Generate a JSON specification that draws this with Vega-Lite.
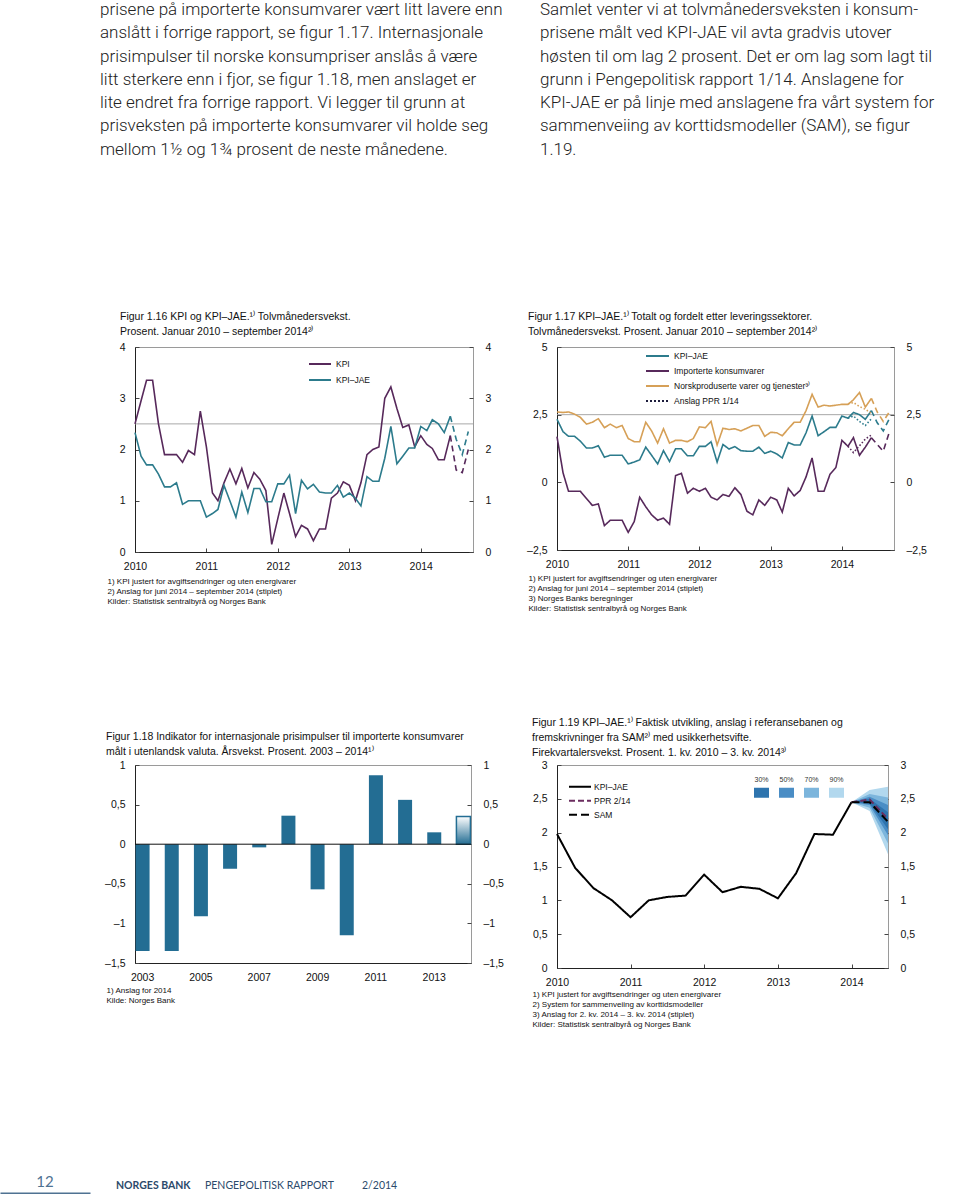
{
"$schema": "https://vega.github.io/schema/vega-lite/v6.json",
"background": "white",
"padding": 0,
"autosize": {"type": "pad"},
"config": {
  "font": "Liberation Sans",
  "view": {"stroke": "#9a9a9a", "strokeWidth": 1},
  "axis": {"labelFont": "Liberation Sans", "labelFontSize": 10.5, "labelColor": "#111111", "grid": false, "domainColor": "#222222", "tickColor": "#444444", "tickSize": -4},
  "axisLeft": {"labelPadding": 14},
  "axisRight": {"labelPadding": 16, "domain": false},
  "axisX": {"labelPadding": 13, "labelFlush": false, "labelOverlap": false, "titleFont": "Liberation Sans", "titleFontSize": 8, "titleFontWeight": "normal", "titleColor": "#111111", "titleAnchor": "start", "titleAlign": "left", "titleBaseline": "top", "titleLineHeight": 10},
  "title": {"font": "Liberation Sans", "fontSize": 10.5, "fontWeight": "normal", "color": "#111111", "anchor": "start", "frame": "group", "lineHeight": 15, "baseline": "bottom"},
  "legend": {"labelFont": "Liberation Sans", "labelFontSize": 8.5, "labelColor": "#111111", "padding": 0, "symbolStrokeWidth": 2, "labelOffset": 4}
},
"datasets": {
  "mnd": [
    {"d":"2010-01-01","KPI":2.5,"JAE":2.33,"IMP":1.69,"NOR":2.6},
    {"d":"2010-02-01","KPI":2.95,"JAE":1.87,"IMP":0.35,"NOR":2.58},
    {"d":"2010-03-01","KPI":3.35,"JAE":1.7,"IMP":-0.33,"NOR":2.6},
    {"d":"2010-04-01","KPI":3.35,"JAE":1.7,"IMP":-0.33,"NOR":2.52},
    {"d":"2010-05-01","KPI":2.5,"JAE":1.52,"IMP":-0.33,"NOR":2.4},
    {"d":"2010-06-01","KPI":1.9,"JAE":1.27,"IMP":-0.6,"NOR":2.15},
    {"d":"2010-07-01","KPI":1.9,"JAE":1.27,"IMP":-0.85,"NOR":2.22},
    {"d":"2010-08-01","KPI":1.9,"JAE":1.35,"IMP":-0.8,"NOR":2.35},
    {"d":"2010-09-01","KPI":1.75,"JAE":0.93,"IMP":-1.6,"NOR":2.02},
    {"d":"2010-10-01","KPI":1.98,"JAE":1.0,"IMP":-1.4,"NOR":2.15},
    {"d":"2010-11-01","KPI":1.9,"JAE":1.0,"IMP":-1.4,"NOR":2.02},
    {"d":"2010-12-01","KPI":2.75,"JAE":1.0,"IMP":-1.4,"NOR":2.1},
    {"d":"2011-01-01","KPI":2.05,"JAE":0.68,"IMP":-1.85,"NOR":1.62},
    {"d":"2011-02-01","KPI":1.15,"JAE":0.75,"IMP":-1.45,"NOR":1.5},
    {"d":"2011-03-01","KPI":1.0,"JAE":0.83,"IMP":-0.55,"NOR":1.5},
    {"d":"2011-04-01","KPI":1.35,"JAE":1.3,"IMP":-0.9,"NOR":2.22},
    {"d":"2011-05-01","KPI":1.62,"JAE":1.0,"IMP":-1.2,"NOR":1.9},
    {"d":"2011-06-01","KPI":1.33,"JAE":0.68,"IMP":-1.4,"NOR":1.45},
    {"d":"2011-07-01","KPI":1.63,"JAE":1.17,"IMP":-1.32,"NOR":1.98},
    {"d":"2011-08-01","KPI":1.25,"JAE":0.77,"IMP":-1.55,"NOR":1.45},
    {"d":"2011-09-01","KPI":1.55,"JAE":1.24,"IMP":0.25,"NOR":1.55},
    {"d":"2011-10-01","KPI":1.42,"JAE":1.24,"IMP":0.33,"NOR":1.55},
    {"d":"2011-11-01","KPI":1.2,"JAE":0.98,"IMP":-0.4,"NOR":1.5},
    {"d":"2011-12-01","KPI":0.15,"JAE":0.98,"IMP":-0.22,"NOR":1.62},
    {"d":"2012-01-01","KPI":0.65,"JAE":1.33,"IMP":-0.33,"NOR":2.05},
    {"d":"2012-02-01","KPI":1.15,"JAE":1.33,"IMP":-0.22,"NOR":2.02},
    {"d":"2012-03-01","KPI":0.75,"JAE":1.5,"IMP":-0.55,"NOR":2.25},
    {"d":"2012-04-01","KPI":0.3,"JAE":0.75,"IMP":-0.65,"NOR":1.38},
    {"d":"2012-05-01","KPI":0.52,"JAE":1.4,"IMP":-0.45,"NOR":2.0},
    {"d":"2012-06-01","KPI":0.45,"JAE":1.23,"IMP":-0.52,"NOR":1.95},
    {"d":"2012-07-01","KPI":0.22,"JAE":1.32,"IMP":-0.2,"NOR":1.98},
    {"d":"2012-08-01","KPI":0.45,"JAE":1.17,"IMP":-0.45,"NOR":1.9},
    {"d":"2012-09-01","KPI":0.45,"JAE":1.15,"IMP":-1.07,"NOR":2.0},
    {"d":"2012-10-01","KPI":1.05,"JAE":1.15,"IMP":-1.2,"NOR":2.1},
    {"d":"2012-11-01","KPI":1.15,"JAE":1.3,"IMP":-0.65,"NOR":2.1},
    {"d":"2012-12-01","KPI":1.37,"JAE":1.07,"IMP":-0.85,"NOR":1.7},
    {"d":"2013-01-01","KPI":1.3,"JAE":1.15,"IMP":-0.55,"NOR":1.85},
    {"d":"2013-02-01","KPI":1.0,"JAE":1.05,"IMP":-0.65,"NOR":1.83},
    {"d":"2013-03-01","KPI":1.35,"JAE":0.9,"IMP":-1.1,"NOR":1.72},
    {"d":"2013-04-01","KPI":1.9,"JAE":1.47,"IMP":-0.22,"NOR":1.98},
    {"d":"2013-05-01","KPI":2.0,"JAE":1.38,"IMP":-0.5,"NOR":2.22},
    {"d":"2013-06-01","KPI":2.05,"JAE":1.38,"IMP":-0.3,"NOR":2.22},
    {"d":"2013-07-01","KPI":3.0,"JAE":1.83,"IMP":0.2,"NOR":2.65},
    {"d":"2013-08-01","KPI":3.22,"JAE":2.45,"IMP":0.9,"NOR":3.25},
    {"d":"2013-09-01","KPI":2.8,"JAE":1.72,"IMP":-0.33,"NOR":2.78},
    {"d":"2013-10-01","KPI":2.43,"JAE":1.87,"IMP":-0.33,"NOR":2.85},
    {"d":"2013-11-01","KPI":2.48,"JAE":2.03,"IMP":0.3,"NOR":2.82},
    {"d":"2013-12-01","KPI":2.05,"JAE":2.03,"IMP":0.55,"NOR":2.85},
    {"d":"2014-01-01","KPI":2.27,"JAE":2.45,"IMP":1.55,"NOR":2.88},
    {"d":"2014-02-01","KPI":2.1,"JAE":2.37,"IMP":1.33,"NOR":2.88},
    {"d":"2014-03-01","KPI":2.02,"JAE":2.58,"IMP":1.65,"NOR":3.05},
    {"d":"2014-04-01","KPI":1.8,"JAE":2.5,"IMP":1.0,"NOR":3.32},
    {"d":"2014-05-01","KPI":1.8,"JAE":2.33,"IMP":1.3,"NOR":2.78},
    {"d":"2014-06-01","KPI":2.27,"JAE":2.65,"IMP":1.65,"NOR":3.1}
  ],
  "mnd_p": [
    {"d":"2014-06-01","KPI":2.27,"JAE":2.65,"IMP":1.65,"NOR":3.1},
    {"d":"2014-07-01","KPI":1.6,"JAE":2.2,"IMP":1.4,"NOR":2.6},
    {"d":"2014-08-01","KPI":1.55,"JAE":1.9,"IMP":1.15,"NOR":2.25},
    {"d":"2014-09-01","KPI":2.0,"JAE":2.35,"IMP":1.85,"NOR":2.6}
  ],
  "ppr": [
    {"d":"2014-02-01","JAE":2.37,"IMP":1.33,"NOR":2.9},
    {"d":"2014-03-01","JAE":2.45,"IMP":1.1,"NOR":2.95},
    {"d":"2014-04-01","JAE":2.25,"IMP":1.35,"NOR":2.8},
    {"d":"2014-05-01","JAE":2.1,"IMP":1.6,"NOR":2.7},
    {"d":"2014-06-01","JAE":2.35,"IMP":1.75,"NOR":2.55}
  ],
  "kv": [
    {"d":"2010-01-01","s":"JAE","v":1.98},
    {"d":"2010-04-01","s":"JAE","v":1.48},
    {"d":"2010-07-01","s":"JAE","v":1.18},
    {"d":"2010-10-01","s":"JAE","v":1.0},
    {"d":"2011-01-01","s":"JAE","v":0.75},
    {"d":"2011-04-01","s":"JAE","v":1.0},
    {"d":"2011-07-01","s":"JAE","v":1.05},
    {"d":"2011-10-01","s":"JAE","v":1.07},
    {"d":"2012-01-01","s":"JAE","v":1.38},
    {"d":"2012-04-01","s":"JAE","v":1.12},
    {"d":"2012-07-01","s":"JAE","v":1.2},
    {"d":"2012-10-01","s":"JAE","v":1.17},
    {"d":"2013-01-01","s":"JAE","v":1.03},
    {"d":"2013-04-01","s":"JAE","v":1.4},
    {"d":"2013-07-01","s":"JAE","v":1.98},
    {"d":"2013-10-01","s":"JAE","v":1.97},
    {"d":"2014-01-01","s":"JAE","v":2.45},
    {"d":"2014-01-01","s":"PPR","v":2.45},
    {"d":"2014-04-01","s":"PPR","v":2.49},
    {"d":"2014-07-01","s":"PPR","v":2.2},
    {"d":"2014-01-01","s":"SAM","v":2.45},
    {"d":"2014-04-01","s":"SAM","v":2.45},
    {"d":"2014-07-01","s":"SAM","v":2.16}
  ],
  "vifte": [
    {"d":"2014-01-01","b":"90%","lo":2.45,"hi":2.45},
    {"d":"2014-04-01","b":"90%","lo":2.32,"hi":2.63},
    {"d":"2014-07-01","b":"90%","lo":1.68,"hi":2.68},
    {"d":"2014-01-01","b":"70%","lo":2.45,"hi":2.45},
    {"d":"2014-04-01","b":"70%","lo":2.37,"hi":2.57},
    {"d":"2014-07-01","b":"70%","lo":1.84,"hi":2.52},
    {"d":"2014-01-01","b":"50%","lo":2.45,"hi":2.45},
    {"d":"2014-04-01","b":"50%","lo":2.41,"hi":2.53},
    {"d":"2014-07-01","b":"50%","lo":1.96,"hi":2.41},
    {"d":"2014-01-01","b":"30%","lo":2.45,"hi":2.45},
    {"d":"2014-04-01","b":"30%","lo":2.43,"hi":2.5},
    {"d":"2014-07-01","b":"30%","lo":2.05,"hi":2.3}
  ],
  "aar": [
    {"aar":2003,"v":-1.35,"t":"faktisk"},
    {"aar":2004,"v":-1.35,"t":"faktisk"},
    {"aar":2005,"v":-0.91,"t":"faktisk"},
    {"aar":2006,"v":-0.31,"t":"faktisk"},
    {"aar":2007,"v":-0.04,"t":"faktisk"},
    {"aar":2008,"v":0.36,"t":"faktisk"},
    {"aar":2009,"v":-0.57,"t":"faktisk"},
    {"aar":2010,"v":-1.15,"t":"faktisk"},
    {"aar":2011,"v":0.87,"t":"faktisk"},
    {"aar":2012,"v":0.56,"t":"faktisk"},
    {"aar":2013,"v":0.15,"t":"faktisk"},
    {"aar":2014,"v":0.35,"t":"anslag"}
  ]
},
"concat": [
  {"width": 90, "height": 134, "view": {"stroke": null}, "data": {"values": [{}]}, "mark": {"type": "point", "opacity": 0}, "encoding": {}},
  {
    "width": 377, "height": 134,
    "view": {"stroke": null},
    "data": {"values": [
      {"line": 0, "t": "prisene på importerte konsumvarer vært litt lavere enn"},
      {"line": 1, "t": "anslått i forrige rapport, se figur 1.17. Internasjonale"},
      {"line": 2, "t": "prisimpulser til norske konsumpriser anslås å være"},
      {"line": 3, "t": "litt sterkere enn i fjor, se figur 1.18, men anslaget er"},
      {"line": 4, "t": "lite endret fra forrige rapport. Vi legger til grunn at"},
      {"line": 5, "t": "prisveksten på importerte konsumvarer vil holde seg"},
      {"line": 6, "t": "mellom 1½ og 1¾ prosent de neste månedene."}
    ]},
    "mark": {"type": "text", "align": "left", "baseline": "middle", "dx": -223.5, "font": "Roboto", "fontSize": 17, "fontWeight": 300, "color": "#222222"},
    "encoding": {
      "y": {"field": "line", "type": "quantitative", "scale": {"domain": [-0.4292, 5.322], "nice": false, "zero": false, "reverse": true}, "axis": null},
      "text": {"field": "t"}
    }
  },
  {
    "width": 337, "height": 134,
    "view": {"stroke": null},
    "data": {"values": [
      {"line": 0, "t": "Samlet venter vi at tolvmånedersveksten i konsum-"},
      {"line": 1, "t": "prisene målt ved KPI-JAE vil avta gradvis utover"},
      {"line": 2, "t": "høsten til om lag 2 prosent. Det er om lag som lagt til"},
      {"line": 3, "t": "grunn i Pengepolitisk rapport 1/14. Anslagene for"},
      {"line": 4, "t": "KPI-JAE er på linje med anslagene fra vårt system for"},
      {"line": 5, "t": "sammenveiing av korttidsmodeller (SAM), se figur"},
      {"line": 6, "t": "1.19."}
    ]},
    "mark": {"type": "text", "align": "left", "baseline": "middle", "dx": -185.5, "font": "Roboto", "fontSize": 17, "fontWeight": 300, "color": "#222222"},
    "encoding": {
      "y": {"field": "line", "type": "quantitative", "scale": {"domain": [-0.4292, 5.322], "nice": false, "zero": false, "reverse": true}, "axis": null},
      "text": {"field": "t"}
    }
  },
  {"width": 90, "height": 10, "view": {"stroke": null}, "data": {"values": [{}]}, "mark": {"type": "point", "opacity": 0}, "encoding": {}},
  {
    "width": 338, "height": 205,
    "title": {"text": ["Figur 1.16 KPI og KPI–JAE.¹⁾ Tolvmånedersvekst.", "Prosent. Januar 2010 – september 2014²⁾"], "dx": -15, "offset": 5},
    "layer": [
      {
        "data": {"values": [{"ref": 2.5}]},
        "mark": {"type": "rule", "color": "#a8a8a8", "strokeWidth": 1},
        "encoding": {"y": {"field": "ref", "type": "quantitative", "scale": {"domain": [0, 4], "nice": false, "zero": false}, "axis": {"orient": "right", "values": [0, 1, 2, 3, 4], "title": null}}}
      },
      {
        "data": {"name": "mnd"},
        "transform": [{"fold": ["KPI", "JAE"], "as": ["s", "v"]}],
        "mark": {"type": "line", "strokeWidth": 1.6},
        "encoding": {
          "x": {"field": "d", "type": "temporal",
                "scale": {"type": "utc", "domain": [{"year": 2010, "month": 1, "date": 1, "utc": true}, {"year": 2014, "month": 9, "date": 25, "utc": true}]},
                "axis": {"values": [{"year": 2010, "utc": true}, {"year": 2011, "utc": true}, {"year": 2012, "utc": true}, {"year": 2013, "utc": true}, {"year": 2014, "utc": true}], "format": "%Y", "formatType": "utc",
                         "title": ["1) KPI justert for avgiftsendringer og uten energivarer", "2) Anslag for juni 2014 – september 2014 (stiplet)", "Kilder: Statistisk sentralbyrå og Norges Bank"], "titleX": -28, "titleY": 25}},
          "y": {"field": "v", "type": "quantitative", "axis": {"orient": "left", "values": [0, 1, 2, 3, 4], "title": null}},
          "color": {"field": "s", "type": "nominal", "scale": {"domain": ["KPI", "JAE"], "range": ["#57295b", "#2c7b8c"]},
                    "legend": {"orient": "none", "legendX": 173, "legendY": 9, "title": null, "symbolType": "stroke", "symbolSize": 484, "clipHeight": 16, "rowPadding": 0, "labelExpr": "datum.label == 'JAE' ? 'KPI–JAE' : datum.label"}}
        }
      },
      {
        "data": {"name": "mnd_p"},
        "transform": [{"fold": ["KPI", "JAE"], "as": ["s", "v"]}],
        "mark": {"type": "line", "strokeWidth": 1.6, "strokeDash": [6, 4]},
        "encoding": {
          "x": {"field": "d", "type": "temporal", "scale": {"type": "utc"}},
          "y": {"field": "v", "type": "quantitative", "axis": null},
          "color": {"field": "s", "type": "nominal"}
        }
      }
    ],
    "resolve": {"axis": {"y": "independent"}}
  },
  {
    "width": 337, "height": 203,
    "title": {"text": ["Figur 1.17 KPI–JAE.¹⁾ Totalt og fordelt etter leveringssektorer.", "Tolvmånedersvekst. Prosent. Januar 2010 – september 2014²⁾"], "dx": -29, "offset": 5},
    "layer": [
      {
        "data": {"values": [{"ref": 2.5}]},
        "mark": {"type": "rule", "color": "#a8a8a8", "strokeWidth": 1},
        "encoding": {"y": {"field": "ref", "type": "quantitative", "scale": {"domain": [-2.5, 5], "nice": false, "zero": false},
          "axis": {"orient": "right", "values": [-2.5, 0, 2.5, 5], "title": null, "labelExpr": "replace(replace(toString(datum.value), '.', ','), '-', '–')"}}}
      },
      {
        "data": {"name": "mnd"},
        "transform": [{"fold": ["JAE", "IMP", "NOR"], "as": ["s", "v"]}],
        "mark": {"type": "line", "strokeWidth": 1.6},
        "encoding": {
          "x": {"field": "d", "type": "temporal",
                "scale": {"type": "utc", "domain": [{"year": 2010, "month": 1, "date": 1, "utc": true}, {"year": 2014, "month": 9, "date": 25, "utc": true}]},
                "axis": {"values": [{"year": 2010, "utc": true}, {"year": 2011, "utc": true}, {"year": 2012, "utc": true}, {"year": 2013, "utc": true}, {"year": 2014, "utc": true}], "format": "%Y", "formatType": "utc",
                         "title": ["1) KPI justert for avgiftsendringer og uten energivarer", "2) Anslag for juni 2014 – september 2014 (stiplet)", "3) Norges Banks beregninger", "Kilder: Statistisk sentralbyrå og Norges Bank"], "titleX": -29, "titleY": 24}},
          "y": {"field": "v", "type": "quantitative", "axis": {"orient": "left", "values": [-2.5, 0, 2.5, 5], "title": null, "labelExpr": "replace(replace(toString(datum.value), '.', ','), '-', '–')"}},
          "color": {"field": "s", "type": "nominal", "scale": {"domain": ["JAE", "IMP", "NOR", "PPR"], "range": ["#2c7b8c", "#57295b", "#d6a057", "#1c1c3c"]},
                    "legend": {"orient": "none", "legendX": 88, "legendY": 1.5, "title": null, "symbolType": "stroke", "symbolSize": 529, "clipHeight": 15, "rowPadding": 0,
                               "labelExpr": "datum.label == 'JAE' ? 'KPI–JAE' : datum.label == 'IMP' ? 'Importerte konsumvarer' : datum.label == 'NOR' ? 'Norskproduserte varer og tjenester³⁾' : 'Anslag PPR 1/14'"}},
          "strokeDash": {"field": "s", "type": "nominal", "scale": {"domain": ["JAE", "IMP", "NOR", "PPR"], "range": [[1, 0], [1, 0], [1, 0], [2, 2]]},
                    "legend": {"orient": "none", "legendX": 88, "legendY": 1.5, "title": null, "symbolType": "stroke", "symbolSize": 529, "clipHeight": 15, "rowPadding": 0,
                               "labelExpr": "datum.label == 'JAE' ? 'KPI–JAE' : datum.label == 'IMP' ? 'Importerte konsumvarer' : datum.label == 'NOR' ? 'Norskproduserte varer og tjenester³⁾' : 'Anslag PPR 1/14'"}}
        }
      },
      {
        "data": {"name": "mnd_p"},
        "transform": [{"fold": ["JAE", "IMP", "NOR"], "as": ["s", "v"]}],
        "mark": {"type": "line", "strokeWidth": 1.6, "strokeDash": [6, 4]},
        "encoding": {
          "x": {"field": "d", "type": "temporal", "scale": {"type": "utc"}},
          "y": {"field": "v", "type": "quantitative", "axis": null},
          "color": {"field": "s", "type": "nominal"}
        }
      },
      {
        "data": {"name": "ppr"},
        "transform": [{"fold": ["JAE", "IMP", "NOR"], "as": ["s", "v"]}],
        "mark": {"type": "line", "strokeWidth": 1.6, "strokeDash": [1.5, 2]},
        "encoding": {
          "x": {"field": "d", "type": "temporal", "scale": {"type": "utc"}},
          "y": {"field": "v", "type": "quantitative", "axis": null},
          "color": {"field": "s", "type": "nominal"}
        }
      }
    ],
    "resolve": {"axis": {"y": "independent"}}
  },
  {"width": 90, "height": 10, "view": {"stroke": null}, "data": {"values": [{}]}, "mark": {"type": "point", "opacity": 0}, "encoding": {}},
  {
    "width": 336, "height": 198,
    "title": {"text": ["Figur 1.18 Indikator for internasjonale prisimpulser til importerte konsumvarer", "målt i utenlandsk valuta. Årsvekst. Prosent. 2003 – 2014¹⁾"], "dx": -29, "offset": 3},
    "data": {"name": "aar"},
    "layer": [
      {
        "transform": [{"filter": "datum.t == 'faktisk'"}],
        "mark": {"type": "bar", "color": "#236d93"},
        "encoding": {
          "x": {"field": "aar", "type": "ordinal", "scale": {"domain": [2003, 2004, 2005, 2006, 2007, 2008, 2009, 2010, 2011, 2012, 2013, 2014], "paddingInner": 0.52, "paddingOuter": 0.02},
                "axis": {"values": [2003, 2005, 2007, 2009, 2011, 2013], "ticks": false, "labelAngle": 0, "labelPadding": 9,
                         "title": ["1) Anslag for 2014", "Kilde: Norges Bank"], "titleX": -29, "titleY": 23}},
          "y": {"field": "v", "type": "quantitative", "scale": {"domain": [-1.5, 1], "nice": false, "zero": false},
                "axis": {"orient": "left", "values": [-1.5, -1, -0.5, 0, 0.5, 1], "title": null, "labelExpr": "replace(replace(toString(datum.value), '.', ','), '-', '–')"}}
        }
      },
      {
        "transform": [{"filter": "datum.t == 'anslag'"}],
        "mark": {"type": "bar", "stroke": "#236d93", "strokeWidth": 1.5,
                 "fill": {"gradient": "linear", "x1": 0, "y1": 0, "x2": 0, "y2": 1, "stops": [{"offset": 0, "color": "#ffffff"}, {"offset": 1, "color": "#236d93"}]}},
        "encoding": {
          "x": {"field": "aar", "type": "ordinal"},
          "y": {"field": "v", "type": "quantitative", "axis": null}
        }
      },
      {
        "data": {"values": [{"null": 0}]},
        "mark": {"type": "rule", "color": "#111111", "strokeWidth": 1},
        "encoding": {"y": {"field": "null", "type": "quantitative", "axis": {"orient": "right", "values": [-1.5, -1, -0.5, 0, 0.5, 1], "title": null, "labelExpr": "replace(replace(toString(datum.value), '.', ','), '-', '–')"}}}
      }
    ],
    "resolve": {"axis": {"y": "independent"}}
  },
  {
    "width": 331, "height": 203,
    "title": {"text": ["Figur 1.19 KPI–JAE.¹⁾ Faktisk utvikling, anslag i referansebanen og", "fremskrivninger fra SAM²⁾ med usikkerhetsvifte.", "Firekvartalersvekst. Prosent. 1. kv. 2010 – 3. kv. 2014³⁾"], "dx": -25, "offset": 2},
    "layer": [
      {
        "data": {"name": "vifte"},
        "transform": [{"filter": "datum.b == '90%'"}],
        "mark": {"type": "area", "opacity": 1},
        "encoding": {
          "x": {"field": "d", "type": "temporal", "scale": {"type": "utc"}},
          "y": {"field": "lo", "type": "quantitative", "scale": {"domain": [0, 3], "nice": false, "zero": false},
                "axis": {"orient": "right", "values": [0, 0.5, 1, 1.5, 2, 2.5, 3], "title": null, "labelExpr": "replace(toString(datum.value), '.', ',')"}},
          "y2": {"field": "hi"},
          "fill": {"field": "b", "type": "nominal", "scale": {"domain": ["30%", "50%", "70%", "90%"], "range": ["#2e74ae", "#4a8dc5", "#7cb5dc", "#b2d8ee"]},
                   "legend": {"orient": "none", "legendX": 197, "legendY": 20, "direction": "horizontal", "title": null, "symbolType": "M-1,-0.667H1V0.667H-1Z", "symbolSize": 225, "symbolStrokeWidth": 0, "labelAlign": "center", "labelOffset": -7.5, "labelFontSize": 7, "labelOpacity": 0, "columnPadding": 10}},
          "strokeWidth": {"field": "b", "type": "ordinal", "scale": {"domain": ["90%", "70%", "50%", "30%"], "range": [0, 0]},
                   "legend": {"orient": "none", "legendX": 197, "legendY": 7, "direction": "horizontal", "title": null, "values": ["30%", "50%", "70%", "90%"], "symbolType": "M-1,-0.667H1V0.667H-1Z", "symbolSize": 225, "symbolOpacity": 0, "symbolStrokeWidth": 0, "labelAlign": "center", "labelOffset": -7.5, "labelFontSize": 7, "labelColor": "#333333", "columnPadding": 10}}
        }
      },
      {
        "data": {"name": "vifte"},
        "transform": [{"filter": "datum.b == '70%'"}],
        "mark": {"type": "area", "opacity": 1},
        "encoding": {
          "x": {"field": "d", "type": "temporal", "scale": {"type": "utc"}},
          "y": {"field": "lo", "type": "quantitative", "axis": null},
          "y2": {"field": "hi"},
          "fill": {"field": "b", "type": "nominal"}
        }
      },
      {
        "data": {"name": "vifte"},
        "transform": [{"filter": "datum.b == '50%'"}],
        "mark": {"type": "area", "opacity": 1},
        "encoding": {
          "x": {"field": "d", "type": "temporal", "scale": {"type": "utc"}},
          "y": {"field": "lo", "type": "quantitative", "axis": null},
          "y2": {"field": "hi"},
          "fill": {"field": "b", "type": "nominal"}
        }
      },
      {
        "data": {"name": "vifte"},
        "transform": [{"filter": "datum.b == '30%'"}],
        "mark": {"type": "area", "opacity": 1},
        "encoding": {
          "x": {"field": "d", "type": "temporal", "scale": {"type": "utc"}},
          "y": {"field": "lo", "type": "quantitative", "axis": null},
          "y2": {"field": "hi"},
          "fill": {"field": "b", "type": "nominal"}
        }
      },
      {
        "data": {"name": "kv"},
        "mark": {"type": "line", "strokeWidth": 2},
        "encoding": {
          "x": {"field": "d", "type": "temporal",
                "scale": {"type": "utc", "domain": [{"year": 2010, "month": 1, "date": 1, "utc": true}, {"year": 2014, "month": 7, "date": 1, "utc": true}]},
                "axis": {"values": [{"year": 2010, "utc": true}, {"year": 2011, "utc": true}, {"year": 2012, "utc": true}, {"year": 2013, "utc": true}, {"year": 2014, "utc": true}], "format": "%Y", "formatType": "utc",
                         "title": ["1) KPI justert for avgiftsendringer og uten energivarer", "2) System for sammenveiing av korttidsmodeller", "3) Anslag for 2. kv. 2014 – 3. kv. 2014 (stiplet)", "Kilder: Statistisk sentralbyrå og Norges Bank"], "titleX": -25, "titleY": 22}},
          "y": {"field": "v", "type": "quantitative", "axis": {"orient": "left", "values": [0, 0.5, 1, 1.5, 2, 2.5, 3], "title": null, "labelExpr": "replace(toString(datum.value), '.', ',')"}},
          "stroke": {"field": "s", "type": "nominal", "scale": {"domain": ["JAE", "PPR", "SAM"], "range": ["#000000", "#6b2d5f", "#000000"]},
                     "legend": {"orient": "none", "legendX": 11, "legendY": 15, "title": null, "symbolType": "stroke", "symbolSize": 484, "clipHeight": 13.3, "rowPadding": 0, "labelOffset": 2,
                                "labelExpr": "datum.label == 'JAE' ? 'KPI–JAE' : datum.label == 'PPR' ? 'PPR 2/14' : 'SAM'"}},
          "strokeDash": {"field": "s", "type": "nominal", "scale": {"domain": ["JAE", "PPR", "SAM"], "range": [[1, 0], [6, 3], [8, 4]]},
                     "legend": {"orient": "none", "legendX": 11, "legendY": 15, "title": null, "symbolType": "stroke", "symbolSize": 484, "clipHeight": 13.3, "rowPadding": 0, "labelOffset": 2,
                                "labelExpr": "datum.label == 'JAE' ? 'KPI–JAE' : datum.label == 'PPR' ? 'PPR 2/14' : 'SAM'"}}
        }
      }
    ],
    "resolve": {"axis": {"y": "independent"}}
  },
  {
    "width": 90, "height": 12.5,
    "view": {"stroke": null},
    "data": {"values": [{"p": "12"}]},
    "mark": {"type": "text", "baseline": "middle", "dy": -5, "font": "Lato", "fontSize": 15, "color": "#4f7292"},
    "encoding": {
      "x": {"field": "p", "type": "nominal", "axis": {"domainColor": "#4f7292", "domainWidth": 3, "domainCap": "butt", "labels": false, "ticks": false, "title": null}},
      "text": {"field": "p"}
    }
  },
  {
    "width": 20, "height": 12.5,
    "view": {"stroke": null},
    "data": {"values": [{"a": "NORGES BANK", "b": "PENGEPOLITISK RAPPORT", "c": "2/2014"}]},
    "layer": [
      {"mark": {"type": "text", "align": "left", "baseline": "middle", "dx": -29, "dy": -1, "font": "Lato", "fontSize": 10.5, "fontWeight": "bold", "color": "#2c4a6b"}, "encoding": {"text": {"field": "a"}}},
      {"mark": {"type": "text", "align": "left", "baseline": "middle", "dx": 60, "dy": -1, "font": "Lato", "fontSize": 10.5, "color": "#2c4a6b"}, "encoding": {"text": {"field": "b"}}},
      {"mark": {"type": "text", "align": "left", "baseline": "middle", "dx": 217, "dy": -1, "font": "Lato", "fontSize": 10.5, "color": "#2c4a6b"}, "encoding": {"text": {"field": "c"}}}
    ]
  },
  {"width": 10, "height": 10, "view": {"stroke": null}, "data": {"values": [{}]}, "mark": {"type": "point", "opacity": 0}, "encoding": {}}
],
"columns": 3,
"align": "each",
"spacing": {"row": 213, "column": 45},
"bounds": "flush",
"resolve": {"scale": {"color": "independent", "strokeDash": "independent", "stroke": "independent", "fill": "independent", "strokeWidth": "independent"}}
}
